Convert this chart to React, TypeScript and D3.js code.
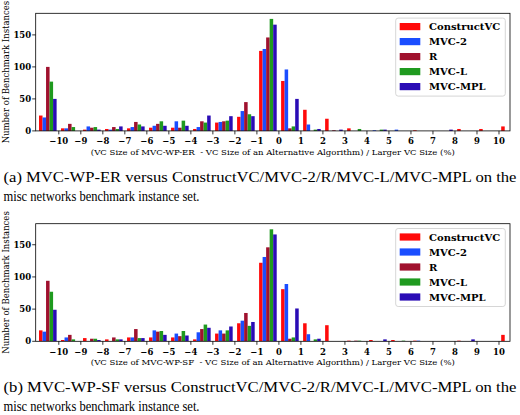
import React from "react";
import * as d3 from "d3";

// bin left edges (each bin is [b, b+1))
const bins = [-11, -10, -9, -8, -7, -6, -5, -4, -3, -2, -1, 0, 1, 2, 3, 4, 5, 6, 7, 8, 9, 10];
const xTicks = [-10, -9, -8, -7, -6, -5, -4, -3, -2, -1, 0, 1, 2, 3, 4, 5, 6, 7, 8, 9, 10];
const yTicks = [0, 50, 100, 150];

const seriesNames = ["ConstructVC", "MVC-2", "R", "MVC-L", "MVC-MPL"];
const seriesColors = ["#ff0a0a", "#1a4dff", "#a0112e", "#1f9a1f", "#2a0cb5"];

// Panel (a): MVC-WP-ER
const constructA = [24, 4, 2, 3, 4, 5, 5, 3, 13, 22, 125, 78, 33, 19, 4, 0, 0, 1, 0, 3, 3, 7];
const mvc2A = [21, 4, 7, 2, 6, 8, 15, 6, 14, 31, 128, 96, 10, 0, 0, 1, 2, 0, 0, 0, 0, 0];
const rA = [100, 11, 5, 6, 14, 11, 5, 15, 15, 45, 146, 4, 0, 1, 0, 0, 0, 0, 0, 0, 0, 0];
const mvcLA = [77, 6, 6, 3, 10, 15, 16, 13, 16, 26, 175, 7, 2, 0, 3, 2, 0, 0, 0, 0, 0, 0];
const mplA = [50, 0, 2, 7, 7, 8, 8, 24, 23, 23, 166, 50, 3, 2, 0, 2, 0, 0, 2, 0, 0, 0];

// Panel (b): MVC-WP-SF
const constructB = [17, 2, 5, 3, 6, 6, 6, 3, 12, 28, 122, 81, 28, 25, 1, 2, 2, 1, 0, 1, 0, 10];
const mvc2B = [15, 6, 0, 0, 6, 17, 12, 14, 17, 32, 131, 89, 11, 0, 0, 0, 0, 1, 0, 0, 0, 0];
const rB = [94, 10, 4, 6, 19, 15, 8, 19, 12, 44, 146, 4, 0, 0, 1, 0, 0, 0, 0, 0, 0, 0];
const mvcLB = [77, 3, 4, 3, 5, 16, 16, 26, 17, 24, 174, 6, 3, 0, 1, 0, 1, 0, 0, 0, 0, 0];
const mplB = [49, 0, 2, 3, 5, 10, 9, 21, 23, 30, 166, 51, 4, 0, 0, 3, 0, 0, 0, 3, 0, 0];

const xLabelA = "(VC Size of MVC-WP-ER  - VC Size of an Alternative Algorithm) / Larger VC Size (%)";
const xLabelB = "(VC Size of MVC-WP-SF  - VC Size of an Alternative Algorithm) / Larger VC Size (%)";
const captionA = ["(a) MVC-WP-ER versus ConstructVC/MVC-2/R/MVC-L/MVC-MPL on the", "misc networks benchmark instance set."];
const captionB = ["(b) MVC-WP-SF versus ConstructVC/MVC-2/R/MVC-L/MVC-MPL on the", "misc networks benchmark instance set."];

const W = 520;
const H = 415;
const LEFT = 35.7;
const RIGHT = 510;
const PLOT_H = 117.6;
const tickFmt = d3.format("d");
const serifBold = "'DejaVu Serif', serif";

function Panel({ id, top, series, xLabel }: { id: string; top: number; series: number[][]; xLabel: string }) {
  const bottom = top + PLOT_H;
  const x = d3.scaleLinear().domain([-11.05, 10.5]).range([LEFT, RIGHT]);
  const ymax = (d3.max(series.flat()) as number) * 1.05;
  const y = d3.scaleLinear().domain([0, ymax]).range([bottom, top]);
  const n = series.length;
  const groupW = 0.8;
  const barW = groupW / n;
  const clipId = `clip-${id}`;
  return (
    <g>
      <defs>
        <clipPath id={clipId}>
          <rect x={LEFT} y={top} width={RIGHT - LEFT} height={PLOT_H} />
        </clipPath>
      </defs>
      <g clipPath={`url(#${clipId})`}>
        {series.map((vals, k) =>
          vals.map((v, i) => {
            if (v <= 0) return null;
            const x0 = x(bins[i] + (1 - groupW) / 2 + k * barW);
            const x1 = x(bins[i] + (1 - groupW) / 2 + (k + 1) * barW);
            return (
              <rect key={`${k}-${i}`} x={x0} y={y(v)} width={x1 - x0} height={bottom - y(v)} fill={seriesColors[k]} />
            );
          })
        )}
      </g>
      <rect x={LEFT} y={top} width={RIGHT - LEFT} height={PLOT_H} fill="none" stroke="#000" strokeWidth={0.8} />
      {xTicks.map((t) => (
        <g key={`xt${t}`}>
          <line x1={x(t)} x2={x(t)} y1={bottom} y2={bottom + 3.5} stroke="#000" strokeWidth={0.8} />
          <text x={x(t)} y={bottom + 13.3} textAnchor="middle" fontFamily={serifBold} fontWeight="bold" fontSize={8.5} fill="#000">
            {tickFmt(t)}
          </text>
        </g>
      ))}
      {yTicks.map((t) => (
        <g key={`yt${t}`}>
          <line x1={LEFT - 3.5} x2={LEFT} y1={y(t)} y2={y(t)} stroke="#000" strokeWidth={0.8} />
          <text x={LEFT - 4.5} y={y(t)} dy="0.36em" textAnchor="end" fontFamily={serifBold} fontWeight="bold" fontSize={8.5} fill="#000">
            {tickFmt(t)}
          </text>
        </g>
      ))}
      <text
        x={(LEFT + RIGHT) / 2}
        y={bottom + 24}
        textAnchor="middle"
        fontFamily="'DejaVu Serif', serif"
        fontSize={8}
        textLength={364}
        lengthAdjust="spacingAndGlyphs"
        style={{ whiteSpace: "pre" }}
        fill="#000"
      >
        {xLabel}
      </text>
      <text
        transform={`translate(9.3, ${(top + bottom) / 2}) rotate(-90)`}
        textAnchor="middle"
        fontFamily="'DejaVu Serif', serif"
        fontSize={8.5}
        fill="#000"
      >
        Number of Benchmark Instances
      </text>
      {/* legend */}
      <g>
        <rect x={395.7} y={top + 4.8} width={109.6} height={78} rx={2.5} fill="#fff" fillOpacity={0.8} stroke="#cccccc" strokeWidth={0.8} />
        {seriesNames.map((name, k) => {
          const cy = top + 13.3 + k * 15;
          return (
            <g key={name}>
              <rect x={399.7} y={cy - 3.6} width={20.6} height={7.2} fill={seriesColors[k]} />
              <text x={429} y={cy} dy="0.36em" fontFamily={serifBold} fontWeight="bold" fontSize={10} fill="#000">
                {name}
              </text>
            </g>
          );
        })}
      </g>
    </g>
  );
}

function Caption({ lines, y }: { lines: string[]; y: number }) {
  return (
    <g fontFamily="'Liberation Serif', serif" fontSize={14.5} fill="#000">
      <text x={3.5} y={y} textLength={513} lengthAdjust="spacingAndGlyphs">
        {lines[0]}
      </text>
      <text x={3.5} y={y + 19} textLength={196} lengthAdjust="spacingAndGlyphs">
        {lines[1]}
      </text>
    </g>
  );
}

export default function App() {
  return (
    <svg width={W} height={H} style={{ position: "absolute", left: 0, top: 0, background: "#fff" }}>
      <rect width={W} height={H} fill="#fff" />
      <Panel id="a" top={13.3} series={[constructA, mvc2A, rA, mvcLA, mplA]} xLabel={xLabelA} />
      <Caption lines={captionA} y={182} />
      <Panel id="b" top={223.7} series={[constructB, mvc2B, rB, mvcLB, mplB]} xLabel={xLabelB} />
      <Caption lines={captionB} y={392} />
    </svg>
  );
}
